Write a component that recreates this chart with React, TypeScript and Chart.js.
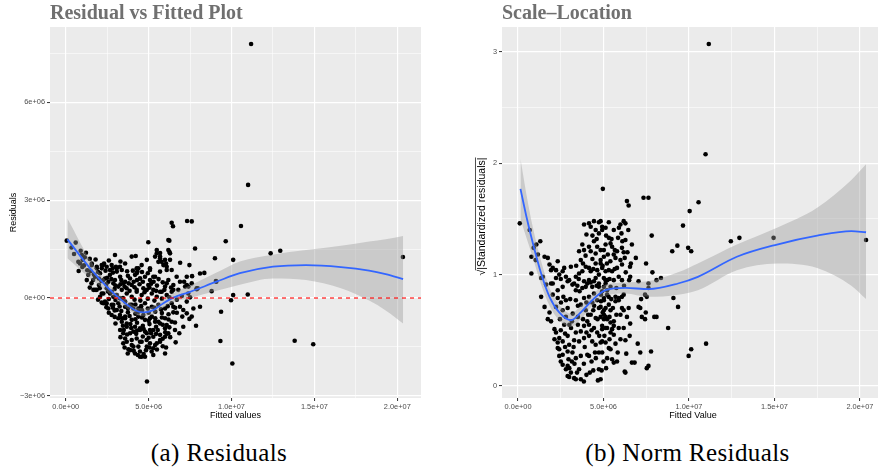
import React, { useEffect, useRef } from "react";
import { Chart, registerables } from "chart.js";
Chart.register(...registerables);

// ---- axis ticks (x values in units of 1e6) ----
const xMajorTicks = [0, 5, 10, 15, 20];
const xMinorTicks = [2.5, 7.5, 12.5, 17.5];
const xTickLabels = ["0.0e+00", "5.0e+06", "1.0e+07", "1.5e+07", "2.0e+07"];
const residMajorTicks = [-3, 0, 3, 6];
const residMinorTicks = [-1.5, 1.5, 4.5, 7.5];
const residTickLabels = ["\u22123e+06", "0e+00", "3e+06", "6e+06"];
const slMajorTicks = [0, 1, 2, 3];
const slMinorTicks = [0.5, 1.5, 2.5];
const slTickLabels = ["0", "1", "2", "3"];

// ---- Residual vs Fitted: [fitted (1e6), residual (1e6)] ----
const residPoints: [number, number][] = [
  [11.18,7.79],[11.0,3.47],[0.06,1.76],[0.6,1.7],[10.57,2.21],[9.65,1.74],[9.0,1.22],[10.1,1.17],[12.36,1.37],[12.94,1.45],
  [8.8,0.21],[9.08,0.5],[9.97,-0.07],[10.1,0.09],[10.98,0.11],[9.37,-0.42],[9.33,-1.32],[10.05,-2.01],[13.81,-1.31],[14.93,-1.42],
  [4.9,-2.56],[20.34,1.26],[7.32,2.36],[7.6,2.35],[6.39,2.31],[6.47,2.2],[6.19,1.78],[6.25,1.76],[4.98,1.71],[4.22,1.29],
  [7.8,1.52],[7.46,1.01],[6.9,1.08],[8.36,0.77],[8.1,0.75],[7.62,0.67],[7.3,0.4],[7.9,0.3],[6.25,1.42],[5.69,1.38],
  [6.29,1.17],[5.79,1.11],[6.09,0.96],[6.19,0.55],[7.14,0.5],[7.4,0.35],[9.06,0.52],[7.96,0.3],[6.49,0.25],[7.5,0.02],
  [0.78,0.83],[0.97,1.32],[1.22,1.39],[1.02,1.17],[1.27,0.55],[1.57,1.06],[2.25,1.01],[1.67,0.25],[2.17,-0.14],[2.47,-0.16],
  [3.03,0.96],[3.38,0.86],[3.47,-1.08],[3.58,-1.24],[3.68,-1.34],[3.78,-1.57],[3.74,-1.7],[4.18,-1.7],[4.28,0.91],[4.32,0.81],
  [4.48,-1.8],[4.78,-1.8],[4.84,-1.6],[5.28,-1.75],[5.49,1.37],[5.69,1.22],[5.99,1.17],[5.89,1.01],[5.99,-1.7],[6.05,-1.52],
  [6.19,-1.08],[6.09,-0.83],[6.59,-0.75],[6.63,-1.36],[6.85,-1.08],[6.49,-0.44],[6.49,-0.27],[7.09,-0.37],[7.3,-0.11],[7.6,-0.57],
  [7.86,-0.85],[8.1,-0.27],[7.03,-0.57],[7.46,-0.64],[7.0,0.06],[7.2,0.35],[7.9,0.27],[6.49,0.4],[6.39,0.19],[6.09,0.45],
  [0.76,1.11],[0.86,1.06],[1.87,0.91],[2.17,1.01],[2.31,1.06],[1.77,0.25],[2.67,0.86],[2.83,0.91],[3.08,0.81],[3.27,0.96],
  [4.38,0.91],[4.28,0.76],[4.48,0.6],[5.69,1.27],[6.19,1.47],[5.08,0.86],[5.28,0.65],[5.69,0.81],[6.09,0.86],
  [2.27,0.55],[2.57,0.5],[2.87,0.45],[3.17,0.35],[3.47,0.45],[3.67,0.3],[3.98,0.4],[4.28,0.25],[4.68,0.3],[4.98,0.4],
  [5.28,0.25],[5.69,0.19],[5.99,0.35],
  [2.27,-0.16],[2.57,-0.32],[2.87,-0.21],[3.08,-0.37],[3.27,-0.52],[3.58,-0.62],[3.68,-0.78],[3.38,-0.73],[3.88,-1.08],[3.98,-1.29],
  [4.08,-1.49],[4.38,-1.49],[4.48,-1.64],[4.58,-1.8],[3.88,-1.6],[4.18,-0.88],[4.48,-0.98],[4.78,-1.03],[5.08,-0.98],[5.28,-1.19],
  [5.49,-1.39],[5.69,-1.29],[5.99,-1.19],[6.09,-1.1],[5.69,-0.78],[5.39,-0.73],[5.08,-0.62],[4.68,-0.52],[4.38,-0.42],[4.08,-0.32],
  [3.88,-0.21],[3.58,-0.11],[3.27,-0.01],[2.87,0.04],[2.67,0.14],[2.27,0.14],[2.07,0.04],[5.08,-1.39],[5.28,-1.54],[5.18,-1.64],
  [4.88,-1.29],[4.28,-1.24],[4.58,-1.34],
  [1.57,1.01],[1.87,0.96],[2.17,0.91],[2.47,0.96],[2.77,1.01],[3.08,0.91],
  [1.36,0.71],[1.77,0.65],[2.07,0.76],[2.37,0.6],[2.67,0.71],[2.97,0.55],[3.28,0.65],[3.58,0.5],[3.88,0.6],[4.18,0.71],
  [4.48,0.6],[4.78,0.65],[5.08,0.55],[5.39,0.65],
  [1.87,0.25],[2.17,0.14],[2.47,0.3],[2.77,0.19],[3.08,0.09],[3.38,0.25],[3.68,0.14],[3.98,0.04],[4.28,0.19],[4.58,0.09],
  [4.89,0.25],[5.19,0.14],[5.49,0.04],[5.79,0.19],[6.09,0.09],
  [2.37,-0.11],[2.77,-0.21],[3.17,-0.16],[3.58,-0.27],[3.98,-0.21],[4.38,-0.32],[4.78,-0.16],[5.19,-0.27],[5.59,-0.21],[5.99,-0.32],
  [6.39,-0.16],
  [2.77,-0.52],[3.17,-0.62],[3.58,-0.57],[3.98,-0.67],[4.38,-0.57],[4.78,-0.67],[5.19,-0.57],[5.59,-0.73],[5.99,-0.62],[6.39,-0.73],
  [3.28,-0.98],[3.68,-0.88],[4.08,-1.03],[4.48,-0.93],[4.89,-1.08],[5.28,-0.98],[5.69,-1.13],[5.99,-0.93],
  [3.47,-1.39],[3.98,-1.44],[4.48,-1.34],[4.89,-1.49],[5.39,-1.44],[5.69,-1.34],
  [2.97,1.32],[3.58,1.06],[3.98,1.27],[4.58,1.01],[4.89,1.17],[5.08,0.91],[5.39,1.27],[5.59,1.11],[6.29,1.37],[6.05,1.06],
  [6.39,0.86],[5.49,1.47],
  [6.69,0.65],[6.89,0.5],[7.3,0.65],[7.6,0.45],[6.79,0.25],[7.39,0.14],
  [6.89,-0.27],[7.3,-0.47],[7.7,-0.32],[6.59,-0.98],[7.09,-0.88],
  [1.5,0.82],[1.95,0.8],[2.4,0.84],[2.85,0.78],[3.7,0.82],[4.05,0.84],[4.6,0.8],[4.95,0.76],
  [1.55,0.45],[2.0,0.4],[2.45,0.43],[3.0,0.38],[3.3,0.42],[3.8,0.45],[4.1,0.5],[4.45,0.42],[5.15,0.44],[5.5,0.38],[5.85,0.48],
  [1.95,-0.05],[2.6,-0.03],[3.0,-0.06],[3.45,0.0],[4.15,-0.05],[4.5,-0.08],[4.95,-0.02],[5.35,-0.08],[5.8,-0.02],[6.25,0.02],[6.7,-0.05],
  [2.6,-0.45],[2.95,-0.38],[3.35,-0.4],[3.75,-0.44],[4.2,-0.48],[4.6,-0.38],[5.0,-0.45],[5.4,-0.42],[5.8,-0.46],[6.2,-0.5],[6.7,-0.45],
  [3.0,-0.78],[3.45,-0.85],[3.9,-0.8],[4.3,-0.76],[4.65,-0.85],[5.05,-0.8],[5.45,-0.88],[5.85,-0.82],[6.25,-0.9],
  [3.3,-1.2],[3.7,-1.12],[4.25,-1.1],[4.65,-1.18],[5.0,-1.22],[5.45,-1.1],[5.85,-1.25],[6.3,-1.2],
  [3.55,-1.52],[4.1,-1.62],[4.7,-1.72],[5.05,-1.52],[5.5,-1.58],[5.85,-1.48],[4.35,-1.75],
  [1.1,1.0],[1.3,0.85],[1.0,0.95],[1.7,0.72],[2.0,0.6],[1.45,1.2],[1.8,1.18],[2.6,1.15],[3.3,1.12],[2.5,0.62],
  [1.65,0.55],[2.15,0.52],[2.75,0.58],[3.35,0.55],[3.75,0.68],[4.3,0.55],[4.65,0.5],[5.3,0.5],[5.6,0.58],
  [1.45,0.32],[2.05,0.3],[2.55,0.2],[2.95,0.28],[3.55,0.35],[3.85,0.22],[4.15,0.33],[4.75,0.18],[5.05,0.32],[5.45,0.22],[5.95,0.25],[6.35,0.32],
  [2.45,-0.28],[2.85,-0.3],[3.25,-0.26],[3.75,-0.32],[4.2,-0.2],[4.55,-0.25],[4.95,-0.32],[5.35,-0.3],[5.75,-0.35],[6.15,-0.25],[6.6,-0.3],
  [2.95,-0.58],[3.4,-0.62],[3.85,-0.55],[4.2,-0.65],[4.6,-0.6],[5.0,-0.7],[5.4,-0.62],[5.8,-0.6],[6.2,-0.66],
  [3.5,-0.98],[3.95,-0.92],[4.3,-1.0],[4.7,-0.95],[5.15,-1.08],[5.55,-0.98],[6.0,-1.05],
  [0.35,1.55],[0.5,1.35],[0.9,1.45],[1.15,1.25],
];

// loess smooth and its confidence band (Residual vs Fitted)
const residSmoothX = [0.1, 1.47, 2.47, 3.47, 4.28, 4.68, 5.28, 5.89, 6.49, 7.5, 9.1, 10.5, 12.5, 14.5, 16.6, 18.3, 19.3, 20.35];
const residSmoothY = [1.8, 0.91, 0.35, -0.11, -0.4, -0.44, -0.37, -0.16, 0.01, 0.19, 0.5, 0.76, 0.96, 1.01, 0.95, 0.84, 0.73, 0.58];
const residBandHi = [2.44, 1.17, 0.5, 0.01, -0.28, -0.32, -0.25, -0.03, 0.15, 0.38, 0.78, 1.12, 1.33, 1.47, 1.6, 1.73, 1.8, 1.9];
const residBandLo = [1.22, 0.6, 0.2, -0.23, -0.52, -0.56, -0.49, -0.29, -0.13, 0.0, 0.22, 0.41, 0.6, 0.55, 0.3, -0.08, -0.38, -0.78];

// ---- Scale-Location: [fitted (1e6), sqrt|std resid|] ----
const slPoints: [number, number][] = [
  [11.16,3.07],[10.97,2.08],[4.96,1.77],[7.34,1.69],[7.63,1.69],[6.37,1.66],[6.47,1.62],[10.56,1.65],[10.04,1.57],[9.65,1.44],
  [9.32,1.26],[9.02,1.21],[10.13,1.21],[7.82,1.35],[7.49,1.1],[7.86,1.02],[8.1,0.95],[8.36,0.97],[7.05,0.94],[7.63,0.92],
  [7.63,0.88],[6.56,0.98],[6.5,0.95],[7.43,0.82],[7.53,0.8],[7.2,0.78],[9.09,0.79],[9.36,0.71],[8.78,0.52],[7.97,0.62],
  [8.1,0.62],[7.47,0.66],[7.43,0.6],[7.05,0.71],[7.15,0.7],[7.24,0.62],
  [7.0,0.38],[7.15,0.3],[7.78,0.31],[7.53,0.16],[7.63,0.18],[6.66,0.21],[6.82,0.21],[6.28,0.12],[6.33,0.29],[5.79,0.22],
  [5.5,0.24],[5.6,0.21],[5.31,0.34],[5.41,0.33],[5.83,0.3],[4.92,0.3],[4.89,0.14],[4.92,0.4],[5.21,0.25],[5.99,0.42],
  [6.28,0.41],[6.53,0.45],[6.56,0.56],[6.18,0.52],[5.6,0.54],[5.89,0.52],[6.47,0.7],[6.37,0.62],[5.99,0.64],[6.08,0.7],
  [6.18,0.68],[5.7,0.76],[5.89,0.77],[5.41,0.68],[5.12,0.62],[5.02,0.6],
  [4.83,1.48],[5.31,1.47],[5.12,1.42],[4.92,1.4],[5.99,1.45],[6.18,1.48],[6.28,1.46],[6.05,1.37],[6.28,1.31],[6.66,1.27],
  [5.31,1.33],[5.47,1.32],[5.41,1.28],[5.5,1.25],[5.12,1.27],[5.02,1.22],[5.66,1.22],[5.79,1.21],[5.6,1.18],[5.7,1.15],
  [6.08,1.24],[6.18,1.2],[6.24,1.15],[5.99,1.13],[6.08,1.09],[6.89,1.15],[5.79,1.06],[5.5,1.03],[5.31,1.04],[4.83,1.1],
  [4.92,1.06],[5.12,1.03],[4.73,1.0],[5.02,0.97],[5.21,0.95],[5.6,0.95],[5.89,0.98],[6.08,0.95],[5.41,0.89],[5.21,0.86],
  [5.7,0.8],[5.89,0.79],[6.08,0.8],[6.18,0.82],[5.02,0.77],[4.83,0.71],[5.12,0.7],[5.31,0.73],[5.02,0.64],[4.83,0.62],
  [5.21,0.6],[5.41,0.57],[5.6,0.58],[4.92,0.54],[5.21,0.52],[5.5,0.51],[5.41,0.48],[5.6,0.46],
  [0.1,1.46],[0.68,1.4],[1.3,1.3],[1.07,1.27],[0.91,1.24],[0.78,1.16],[1.16,1.18],[1.03,1.13],[1.55,1.16],[1.74,1.15],
  [2.32,1.12],[1.84,1.09],[1.93,1.04],[2.03,1.06],[0.78,1.01],[1.45,0.98],[1.35,0.97],[2.22,1.04],[2.61,1.03],[2.7,1.06],
  [3.09,1.07],[2.41,1.0],[2.22,0.97],[1.93,0.92],[2.8,0.98],[2.99,0.95],[3.57,1.01],[3.38,0.98],[3.28,0.92],[3.67,1.13],
  [3.57,1.21],[3.86,1.22],[3.76,1.27],[3.86,1.45],[4.15,1.46],[4.44,1.48],[4.73,1.47],[4.25,1.43],[4.54,1.4],[4.73,1.37],
  [4.92,1.43],[4.44,1.3],[4.63,1.25],[4.15,1.25],[4.25,1.21],[4.54,1.19],[4.83,1.22],[4.83,1.13],[4.54,1.1],[5.02,1.16],
  [3.96,1.07],[4.15,1.06],[4.25,1.03],[3.76,1.03],[4.63,1.04],[4.54,0.97],[4.15,0.95],[3.86,0.94],[4.73,0.92],[5.12,0.95],
  [5.02,0.89],[4.34,0.89],[3.47,0.9],[3.96,0.89],
  [1.35,0.8],[1.64,0.91],[2.03,0.92],[2.32,0.86],[2.61,0.89],[2.9,0.94],[3.18,0.91],[3.38,0.86],[3.76,0.88],[4.05,0.92],
  [4.44,0.94],[4.73,0.89],[4.92,0.85],[5.12,0.92],[2.03,0.82],[2.32,0.79],[2.51,0.75],[2.8,0.77],[2.22,0.71],[2.61,0.68],
  [2.9,0.7],[3.38,0.77],[3.67,0.73],[3.86,0.79],[4.15,0.8],[4.44,0.83],[4.63,0.77],[5.02,0.79],[5.21,0.82],[4.34,0.75],
  [3.96,0.68],[4.73,0.7],[5.02,0.68],[4.25,0.64],[4.54,0.61],[1.74,0.6],[1.93,0.58],[2.13,0.51],[2.22,0.48],[2.41,0.43],
  [2.32,0.39],[2.61,0.4],[2.9,0.45],[2.99,0.37],[3.28,0.41],[3.38,0.48],[3.67,0.49],[3.86,0.54],[4.15,0.55],[4.44,0.52],
  [4.63,0.48],[4.92,0.51],[5.12,0.52],[3.57,0.4],[3.86,0.43],[4.15,0.45],[4.34,0.4],[4.54,0.37],[4.83,0.39],[5.12,0.39],
  [2.41,0.33],[2.61,0.28],[2.9,0.31],[3.18,0.3],[3.38,0.25],[3.67,0.27],[4.05,0.28],[2.61,0.19],[2.9,0.18],[2.8,0.15],
  [3.09,0.12],[3.28,0.07],[3.57,0.15],[3.67,0.06],[4.73,0.15],[4.83,0.06],[4.15,0.27],[4.73,0.3],
  [2.99,0.08],[4.67,0.05],[6.24,0.13],[9.98,0.27],[10.13,0.33],[11.0,0.38],[1.55,0.71],[1.84,0.66],[2.13,0.42],[2.32,0.34],
  [2.41,0.27],[2.9,0.09],[3.38,0.06],
  [12.45,1.3],[12.95,1.33],[14.95,1.33],[20.36,1.31],[9.95,1.24],
  [4.0,1.36],[4.35,1.35],[5.6,1.4],[5.85,1.33],[6.45,1.4],
  [3.95,1.17],[4.35,1.14],[5.25,1.18],[5.4,1.12],[6.4,1.2],[6.6,1.1],
  [3.4,1.08],[3.8,1.1],[4.4,1.05],[4.95,1.08],[5.65,1.05],[6.3,1.02],[6.55,1.07],
  [2.5,0.96],[3.55,0.96],[4.25,0.93],[4.6,0.9],[5.35,0.96],[5.75,0.88],[6.2,0.9],
  [2.65,0.8],[3.05,0.78],[3.5,0.72],[4.0,0.75],[4.45,0.72],[4.85,0.76],[5.55,0.7],[5.3,0.8],
  [2.45,0.6],[2.8,0.62],[3.15,0.58],[3.5,0.62],[3.8,0.6],[4.1,0.64],[4.65,0.6],[4.95,0.66],[5.35,0.62],[5.75,0.64],
  [2.5,0.5],[2.75,0.47],[3.1,0.52],[3.5,0.55],[4.0,0.48],[4.3,0.5],[4.75,0.45],[5.05,0.45],[5.35,0.42],[5.7,0.38],
  [2.5,0.22],[2.95,0.24],[3.3,0.2],[3.85,0.2],[4.3,0.22],[4.55,0.25],[5.0,0.22],
  [3.0,0.16],[3.45,0.12],[4.0,0.1],[4.4,0.14],[3.85,0.04],
  [3.2,0.65],[3.6,0.85],[4.05,0.58],[4.4,0.68],[4.85,0.82],[5.45,0.78],[5.2,1.1],[4.6,1.32],[5.15,1.35],[5.9,1.42],
  [6.1,1.3],[3.0,0.55],[2.7,0.55],[3.25,0.35],[4.5,0.3],[2.75,0.35],[3.9,0.35],[4.2,0.12],[5.15,0.16],[3.15,0.22],
];

const slSmoothX = [0.14, 0.49, 0.87, 1.35, 1.84, 2.41, 3.09, 3.67, 4.34, 5.12, 6.28, 7.63, 9.36, 10.52, 12.8, 15.15, 17.5, 19.5, 20.36];
const slSmoothY = [1.77, 1.52, 1.28, 1.01, 0.8, 0.66, 0.59, 0.66, 0.77, 0.86, 0.88, 0.87, 0.92, 0.98, 1.16, 1.27, 1.35, 1.39, 1.38];
const slBandHi = [2.04, 1.72, 1.42, 1.12, 0.88, 0.73, 0.65, 0.72, 0.82, 0.91, 0.93, 0.94, 1.02, 1.1, 1.27, 1.42, 1.6, 1.85, 1.99];
const slBandLo = [1.5, 1.33, 1.15, 0.91, 0.72, 0.59, 0.53, 0.6, 0.72, 0.81, 0.83, 0.8, 0.82, 0.86, 1.04, 1.1, 1.06, 0.9, 0.78];

const zeroLine = 0;

const SANS = "'Liberation Sans', Arial, sans-serif";
const SERIF = "'Liberation Serif', 'Times New Roman', serif";

const pairs = (xs: number[], ys: number[]) => xs.map((x, i) => ({ x, y: ys[i] }));

const panelBg = {
  id: "panelBg",
  beforeDraw(chart: any) {
    const { ctx, chartArea: a } = chart;
    ctx.save();
    ctx.fillStyle = "#EBEBEB";
    ctx.fillRect(a.left, a.top, a.right - a.left, a.bottom - a.top);
    ctx.restore();
  },
};

const hlinePlugin = {
  id: "hline",
  afterDatasetsDraw(chart: any) {
    const { ctx, chartArea: a, scales } = chart;
    const y = scales.y.getPixelForValue(zeroLine);
    ctx.save();
    ctx.strokeStyle = "#FF0000";
    ctx.lineWidth = 1.1;
    ctx.setLineDash([4, 4]);
    ctx.beginPath();
    ctx.moveTo(a.left, y);
    ctx.lineTo(a.right, y);
    ctx.stroke();
    ctx.restore();
  },
};

const sqrtLabelPlugin = {
  id: "sqrtLabel",
  afterDraw(chart: any) {
    const { ctx, chartArea: a } = chart;
    const cx = 42;
    const cy = (a.top + a.bottom) / 2 + 4;
    const fs = 10.5;
    ctx.save();
    ctx.translate(cx, cy);
    ctx.rotate(-Math.PI / 2);
    ctx.font = `${fs}px ${SANS}`;
    ctx.fillStyle = "#000";
    ctx.textBaseline = "middle";
    const rad = "\u221A";
    const body = "|Standardized residuals|";
    const wr = ctx.measureText(rad).width;
    const wb = ctx.measureText(body).width;
    const total = wr + wb;
    const x0 = -total / 2;
    ctx.textAlign = "left";
    ctx.fillText(rad, x0, 0);
    ctx.fillText(body, x0 + wr, 0);
    ctx.strokeStyle = "#000";
    ctx.lineWidth = 0.7;
    ctx.beginPath();
    ctx.moveTo(x0 + wr - 0.5, -fs * 0.62);
    ctx.lineTo(x0 + total, -fs * 0.62);
    ctx.stroke();
    ctx.restore();
  },
};

function makeAxis(opts: {
  min: number; max: number; major: number[]; minor: number[]; labels: string[];
  horizontal: boolean; size: number; title?: string; titlePad?: number;
}) {
  const all = [...opts.major, ...opts.minor].sort((a, b) => a - b);
  const isMajor = (v: number) => opts.major.indexOf(v) >= 0;
  return {
    type: "linear",
    min: opts.min,
    max: opts.max,
    afterBuildTicks: (scale: any) => {
      scale.ticks = all.map((v) => ({ value: v }));
    },
    afterFit: (scale: any) => {
      if (opts.horizontal) scale.height = opts.size;
      else scale.width = opts.size;
    },
    border: { display: false },
    grid: {
      color: "#FFFFFF",
      lineWidth: (c: any) => (c.tick && isMajor(c.tick.value) ? 1.15 : 0.55),
      drawTicks: true,
      tickLength: 3,
      tickWidth: 1,
      tickColor: (c: any) => (c.tick && isMajor(c.tick.value) ? "#333333" : "rgba(0,0,0,0)"),
    },
    ticks: {
      autoSkip: false,
      maxRotation: 0,
      padding: 2,
      color: "#4D4D4D",
      font: { family: SANS, size: 7.4 },
      callback: (v: number) => {
        const i = opts.major.indexOf(v);
        return i >= 0 ? opts.labels[i] : "";
      },
    },
    title: opts.title
      ? {
          display: true,
          text: opts.title,
          color: "#000000",
          font: { family: SANS, size: 9 },
          padding: { top: opts.titlePad ?? 0, bottom: opts.titlePad ?? 0 },
        }
      : { display: false },
  };
}

function buildConfig(kind: "resid" | "sl") {
  const isResid = kind === "resid";
  const pts = isResid ? residPoints : slPoints;
  const sx = isResid ? residSmoothX : slSmoothX;
  const sy = isResid ? residSmoothY : slSmoothY;
  const hi = isResid ? residBandHi : slBandHi;
  const lo = isResid ? residBandLo : slBandLo;
  return {
    type: "scatter",
    data: {
      datasets: [
        {
          label: "points",
          data: pts.map(([x, y]) => ({ x, y })),
          pointRadius: 2.3,
          pointBackgroundColor: "#000000",
          pointBorderWidth: 0,
          order: 3,
        },
        {
          type: "line",
          label: "band-hi",
          data: pairs(sx, hi),
          borderWidth: 0,
          borderColor: "rgba(0,0,0,0)",
          pointRadius: 0,
          fill: false,
          cubicInterpolationMode: "monotone",
          order: 2,
        },
        {
          type: "line",
          label: "band-lo",
          data: pairs(sx, lo),
          borderWidth: 0,
          borderColor: "rgba(0,0,0,0)",
          backgroundColor: "rgba(153,153,153,0.4)",
          pointRadius: 0,
          fill: "-1",
          cubicInterpolationMode: "monotone",
          order: 2,
        },
        {
          type: "line",
          label: "smooth",
          data: pairs(sx, sy),
          borderColor: "#3366FF",
          borderWidth: 1.8,
          pointRadius: 0,
          fill: false,
          cubicInterpolationMode: "monotone",
          order: 1,
        },
      ],
    },
    options: {
      animation: false,
      responsive: false,
      maintainAspectRatio: false,
      devicePixelRatio: 1,
      layout: { padding: { left: 0, right: isResid ? 19 : 0, top: 0, bottom: 0 } },
      plugins: {
        legend: { display: false },
        tooltip: { enabled: false },
        title: {
          display: true,
          text: isResid ? "Residual vs Fitted Plot" : "Scale\u2013Location",
          align: "start",
          fullSize: false,
          color: "#707070",
          font: { family: SERIF, size: 20, weight: "bold", lineHeight: 1.2 },
          padding: { top: 2, bottom: 1 },
        },
      },
      scales: {
        x: makeAxis({
          min: isResid ? -0.95 : -0.94,
          max: isResid ? 21.43 : 21.41,
          major: xMajorTicks,
          minor: xMinorTicks,
          labels: xTickLabels,
          horizontal: true,
          size: 27,
          title: isResid ? "Fitted values" : "Fitted Value",
          titlePad: 4,
        }),
        y: makeAxis({
          min: isResid ? -3.067 : -0.108,
          max: isResid ? 8.313 : 3.223,
          major: isResid ? residMajorTicks : slMajorTicks,
          minor: isResid ? residMinorTicks : slMinorTicks,
          labels: isResid ? residTickLabels : slTickLabels,
          horizontal: false,
          size: isResid ? 50 : 62,
          title: isResid ? "Residuals" : undefined,
          titlePad: 8.6,
        }),
      },
    },
    plugins: isResid ? [panelBg, hlinePlugin] : [panelBg, sqrtLabelPlugin],
  };
}

function Panel({ kind, width, height }: { kind: "resid" | "sl"; width: number; height: number }) {
  const ref = useRef<HTMLCanvasElement | null>(null);
  useEffect(() => {
    if (!ref.current) return;
    const chart = new Chart(ref.current, buildConfig(kind) as any);
    return () => chart.destroy();
  }, [kind]);
  return <canvas ref={ref} width={width} height={height} style={{ width, height, display: "block" }} />;
}

export default function App() {
  const caption: React.CSSProperties = {
    position: "absolute",
    top: 436,
    fontFamily: SERIF,
    fontSize: 25,
    letterSpacing: 0.4,
    color: "#000",
    whiteSpace: "nowrap",
    transform: "translateX(-50%)",
    lineHeight: "34px",
  };
  return (
    <div style={{ position: "fixed", left: 0, top: 0, width: 878, height: 469, overflow: "hidden", background: "#fff" }}>
      <div style={{ position: "absolute", left: 0, top: 0, width: 440, height: 425 }}>
        <Panel kind="resid" width={440} height={425} />
      </div>
      <div style={{ position: "absolute", left: 440, top: 0, width: 438, height: 425, overflow: "hidden" }}>
        <Panel kind="sl" width={448} height={425} />
      </div>
      <div style={{ ...caption, left: 219 }}>(a) Residuals</div>
      <div style={{ ...caption, left: 687.5 }}>(b) Norm Residuals</div>
    </div>
  );
}
